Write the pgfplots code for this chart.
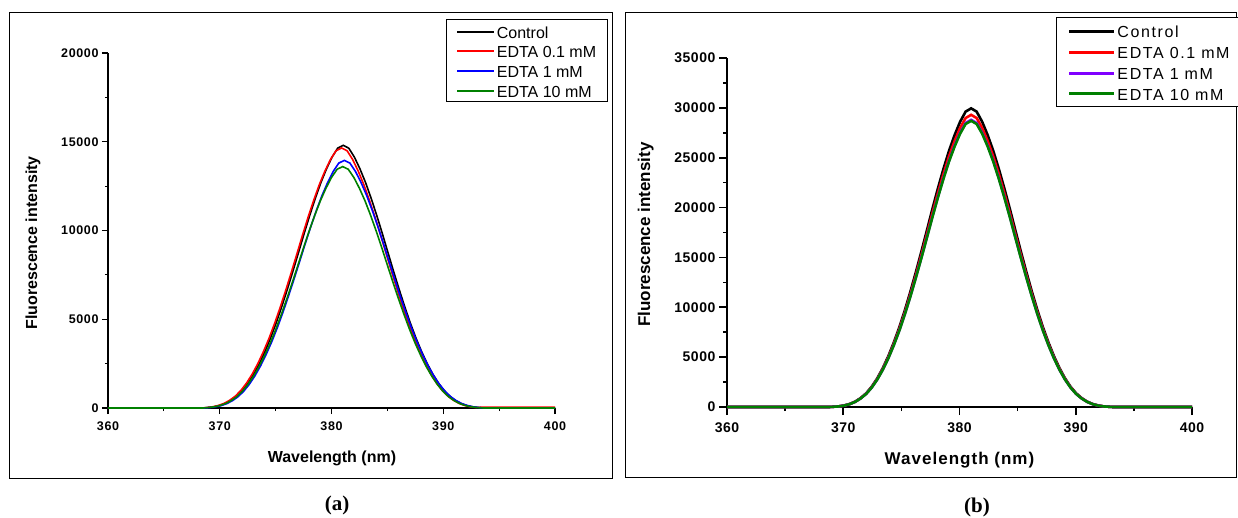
\documentclass[border=0pt]{standalone}
\usepackage{fontspec}
\setmainfont{Liberation Sans}
\newfontfamily\capfont{Liberation Serif}
\newfontfamily\tickA[LetterSpace=5]{Liberation Sans}
\newfontfamily\tickB[LetterSpace=4]{Liberation Sans}
\newfontfamily\legB[LetterSpace=10]{Liberation Sans}
\newfontfamily\labB[LetterSpace=6]{Liberation Sans}
\usepackage{pgfplots}
\usepackage{pgfplotstable}
\pgfplotsset{compat=1.18}
\definecolor{cgreen}{RGB}{0,128,0}
\definecolor{cpurple}{RGB}{128,0,255}

% panel (a): x/y pairs for Control, EDTA 0.1, EDTA 1, EDTA 10
\pgfplotstableread{
xa ya xb yb xc yc xd yd
360 0 360 0 360 0 360 0
368.5 0 368.4 0 368.6 0 368.5 0
369.05 30 368.90 29 369.15 28 369.00 27
369.55 74 369.40 73 369.65 70 369.50 68
370.05 148 369.90 147 370.15 140 370.00 136
370.55 266 370.40 264 370.65 251 370.50 245
371.05 444 370.90 440 371.15 419 371.00 408
371.55 681 371.40 674 371.65 642 371.50 626
372.05 1006 371.90 996 372.15 949 372.00 925
372.55 1421 372.40 1406 372.65 1339 372.50 1306
373.05 1924 372.90 1905 373.15 1814 373.00 1768
373.55 2516 373.40 2491 373.65 2372 373.50 2312
374.05 3197 373.90 3164 374.15 3013 374.00 2938
374.55 3952 374.40 3912 374.65 3725 374.50 3631
375.05 4795 374.90 4747 375.15 4520 375.00 4406
375.55 5713 375.40 5655 375.65 5385 375.50 5250
376.05 6690 375.90 6622 376.15 6305 376.00 6147
376.55 7711 376.40 7633 376.65 7268 376.50 7086
377.05 8762 376.90 8673 377.15 8258 377.00 8051
377.55 9827 377.40 9728 377.65 9263 377.50 9030
378.05 10848 377.90 10738 378.15 10225 378.00 9969
378.55 11810 378.40 11691 378.65 11132 378.50 10853
379.05 12698 378.90 12570 379.15 11969 379.00 11669
379.55 13468 379.40 13332 379.65 12695 379.50 12376
380.05 14134 379.90 13991 380.15 13322 380.00 12988
380.55 14637 380.40 14489 380.65 13797 380.50 13450
381.05 14800 380.90 14650 381.15 13950 381.00 13600
381.55 14637 381.40 14489 381.65 13797 381.50 13450
382.05 14134 381.90 13991 382.15 13322 382.00 12988
382.55 13468 382.40 13332 382.65 12695 382.50 12376
383.05 12698 382.90 12570 383.15 11969 383.00 11669
383.55 11810 383.40 11691 383.65 11132 383.50 10853
384.05 10848 383.90 10738 384.15 10225 384.00 9969
384.55 9827 384.40 9728 384.65 9263 384.50 9030
385.05 8762 384.90 8673 385.15 8258 385.00 8051
385.55 7711 385.40 7633 385.65 7268 385.50 7086
386.05 6690 385.90 6622 386.15 6305 386.00 6147
386.55 5713 386.40 5655 386.65 5385 386.50 5250
387.05 4795 386.90 4747 387.15 4520 387.00 4406
387.55 3952 387.40 3912 387.65 3725 387.50 3631
388.05 3197 387.90 3164 388.15 3013 388.00 2938
388.55 2516 388.40 2491 388.65 2372 388.50 2312
389.05 1924 388.90 1905 389.15 1814 389.00 1768
389.55 1421 389.40 1406 389.65 1339 389.50 1306
390.05 1006 389.90 996 390.15 949 390.00 925
390.55 681 390.40 674 390.65 642 390.50 626
391.05 444 390.90 440 391.15 419 391.00 408
391.55 266 391.40 264 391.65 251 391.50 245
392.05 148 391.90 147 392.15 140 392.00 136
392.55 74 392.40 73 392.65 70 392.50 68
393.05 30 392.90 29 393.15 28 393.00 27
393.6 0 393.6 50 393.6 0 393.6 0
400 0 400 50 400 0 400 0
}\tabA

% panel (b): common wavelengths, Control, EDTA 0.1, EDTA 1, EDTA 10
\pgfplotstableread{
x c e01 e1 e10
360 0 0 0 0
368.8 0 0 0 0
369.6 60 59 58 57
370.075 150 147 144 144
370.55 300 293 288 287
371.025 539 527 518 517
371.5 899 879 864 861
371.975 1378 1348 1325 1320
372.45 2037 1992 1958 1952
372.925 2875 2813 2765 2755
373.4 3894 3809 3744 3731
373.875 5092 4981 4896 4879
374.35 6469 6329 6221 6199
374.825 7997 7823 7690 7663
375.3 9704 9493 9331 9299
375.775 11561 11310 11117 11078
376.25 13537 13244 13018 12972
376.725 15604 15265 15005 14953
377.2 17730 17346 17050 16990
377.675 19887 19455 19123 19057
378.15 21953 21477 21110 21037
378.625 23900 23381 22982 22903
379.1 25697 25139 24710 24625
379.575 27255 26663 26208 26117
380.05 28602 27982 27504 27409
380.525 29621 28978 28483 28384
381.0 29950 29300 28800 28700
381.475 29621 28978 28483 28384
381.95 28602 27982 27504 27409
382.425 27255 26663 26208 26117
382.9 25697 25139 24710 24625
383.375 23900 23381 22982 22903
383.85 21953 21477 21110 21037
384.325 19887 19455 19123 19057
384.8 17730 17346 17050 16990
385.275 15604 15265 15005 14953
385.75 13537 13244 13018 12972
386.225 11561 11310 11117 11078
386.7 9704 9493 9331 9299
387.175 7997 7823 7690 7663
387.65 6469 6329 6221 6199
388.125 5092 4981 4896 4879
388.6 3894 3809 3744 3731
389.075 2875 2813 2765 2755
389.55 2037 1992 1958 1952
390.025 1378 1348 1325 1320
390.5 899 879 864 861
390.975 539 527 518 517
391.45 300 293 288 287
391.925 150 147 144 144
392.4 60 59 58 57
393.2 0 0 0 0
400 0 0 0 0
}\tabB

\pgfplotsset{
  spec/.style={
    scale only axis,
    axis x line*=bottom, axis y line*=left,
    axis line style={-},
    tick align=outside,
    xmin=360, xmax=400, xtick={360,370,...,400},
    minor x tick num=1, minor y tick num=1,
    ymin=0,
    scaled y ticks=false, scaled x ticks=false,
    clip=false,
    /pgf/number format/assume math mode=true,
    /pgf/number format/1000 sep={},
    legend cell align=left,
    xticklabel style={yshift=-4pt},
  }
}

\begin{document}
\begin{tikzpicture}
\path[use as bounding box] (0pt,0pt) rectangle (1238pt,517pt);
\draw[line width=0.9pt] (9.5pt,39pt) rectangle (612pt,505pt);
\draw[line width=0.9pt] (625.5pt,40pt) rectangle (1236pt,505pt);

% ---------------- panel (a)
\begin{axis}[spec,
  at={(108pt,109pt)}, anchor=south west,
  width=447pt, height=355pt,
  ymax=20000, ytick={0,5000,...,20000},
  axis line style={line width=1.4pt},
  major tick length=6pt, minor tick length=3pt,
  every tick/.style={black, line width=1.2pt},
  ticklabel style={font=\tickA\bfseries\fontsize{12.5}{13}\selectfont},
  xlabel={Wavelength (nm)}, ylabel={Fluorescence intensity},
  label style={font=\bfseries\fontsize{16}{18}\selectfont},
  xlabel style={at={(axis description cs:0.501,-0.141)}, anchor=center},
  ylabel style={at={(axis description cs:-0.168,0.465)}, anchor=center},
  legend style={at={(axis description cs:0.756,1.0958)}, anchor=north west,
    draw=black, line width=0.9pt, inner xsep=10pt, inner ysep=1.4pt,
    row sep=0pt, font=\fontsize{16}{18}\selectfont,
    nodes={text height=14.8pt, text depth=0.2pt, inner ysep=2.4pt, inner xsep=1.5pt}},
  legend image code/.code={\draw[#1, line width=2pt] (0pt,-0.9pt) -- (37pt,-0.9pt);},
]
\addplot[black, line width=1.6pt] table[x=xa,y=ya] {\tabA};
\addlegendentry{Control}
\addplot[red, line width=1.6pt] table[x=xb,y=yb] {\tabA};
\addlegendentry{EDTA 0.1 mM}
\addplot[blue, line width=1.6pt] table[x=xc,y=yc] {\tabA};
\addlegendentry{EDTA 1 mM}
\addplot[cgreen, line width=1.6pt] table[x=xd,y=yd] {\tabA};
\addlegendentry{EDTA 10 mM}
\end{axis}

% ---------------- panel (b)
\begin{axis}[spec,
  at={(727pt,110pt)}, anchor=south west,
  width=465pt, height=349pt,
  ymax=35000, ytick={0,5000,...,35000},
  axis line style={line width=2.2pt},
  major tick length=8pt, minor tick length=4pt,
  every tick/.style={black, line width=1.6pt},
  ticklabel style={font=\tickB\bfseries\fontsize{14}{15}\selectfont},
  xlabel={Wavelength (nm)}, ylabel={Fluorescence intensity},
  xlabel style={font=\labB\bfseries\fontsize{17}{19}\selectfont, at={(axis description cs:0.5,-0.152)}, anchor=center},
  ylabel style={font=\bfseries\fontsize{17}{19}\selectfont, at={(axis description cs:-0.175,0.494)}, anchor=center},
  legend style={at={(axis description cs:0.7065,1.1175)}, anchor=north west,
    draw=black, line width=0.9pt, inner xsep=12pt, inner ysep=2.9pt,
    row sep=0pt, font=\legB\fontsize{16}{18}\selectfont,
    nodes={text height=15.1pt, text depth=0.9pt, inner ysep=2.4pt, inner xsep=1.5pt}},
  legend image code/.code={\draw[#1, line width=3pt] (0pt,-0.8pt) -- (45pt,-0.8pt);},
]
\addplot[black, line width=2.6pt] table[x=x,y=c] {\tabB};
\addlegendentry{Control}
\addplot[red, line width=2.6pt] table[x=x,y=e01] {\tabB};
\addlegendentry{EDTA 0.1 mM}
\addplot[cpurple, line width=2.6pt] table[x=x,y=e1] {\tabB};
\addlegendentry{EDTA 1 mM}
\addplot[cgreen, line width=2.6pt] table[x=x,y=e10] {\tabB};
\addlegendentry{EDTA 10 mM}
\end{axis}

\node[font=\capfont\bfseries\fontsize{21}{23}\selectfont] at (337pt,12pt) {(a)};
\node[font=\capfont\bfseries\fontsize{21}{23}\selectfont] at (977pt,10pt) {(b)};
\end{tikzpicture}
\end{document}
